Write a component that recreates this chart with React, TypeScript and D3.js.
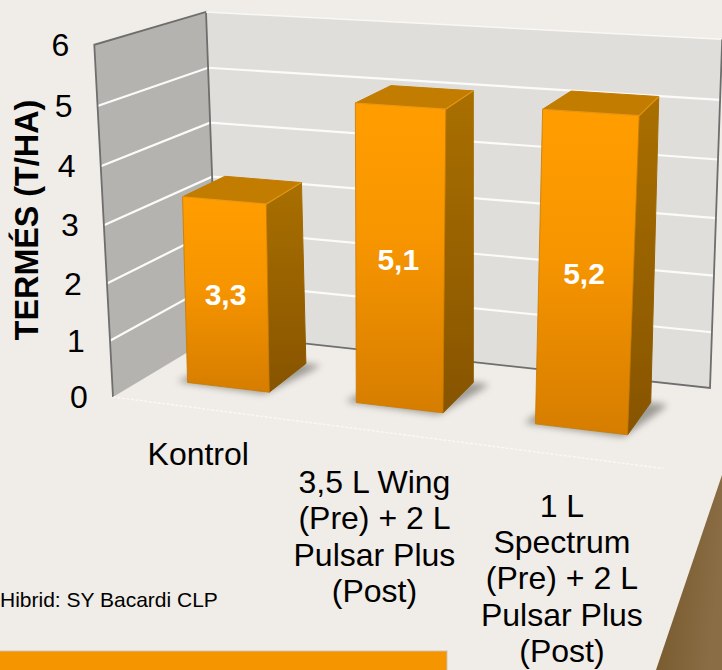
import React from "react";
import * as d3 from "d3";

const categories = ["Kontrol", "3,5 L Wing (Pre) + 2 L Pulsar Plus (Post)", "1 L Spectrum (Pre) + 2 L Pulsar Plus (Post)"];
const categoryLines = [["Kontrol"], ["3,5 L Wing", "(Pre) + 2 L", "Pulsar Plus", "(Post)"], ["1 L", "Spectrum", "(Pre) + 2 L", "Pulsar Plus", "(Post)"]];
const values = [3.3, 5.1, 5.2];
const valueLabels = ["3,3", "5,1", "5,2"];
const ticks = [0, 1, 2, 3, 4, 5, 6];
const yTitle = "TERMÉS (T/HA)";
const note = "Hibrid: SY Bacardi CLP";

// projective camera: unit box (u across, v up, z towards viewer) to picture
const O = [218, 334], X = [710, 388], Y = [206, 12], Z = [113, 397];
const a = -0.08, b = -0.045, c = -0.09;
function project(u: number, v: number, z: number): [number, number] {
  const w = 1 + a * u + b * v + c * z;
  const f = (i: number) => ((1 + a) * X[i] * u + (1 + b) * Y[i] * v + (1 + c) * Z[i] * z + O[i] * (1 - u - v - z)) / w;
  return [f(0), f(1)];
}

const vScale = d3.scaleLinear().domain([0, 6]).range([0, 1]);
const uScale = d3.scaleBand<string>().domain(categories).range([-0.003, 1.011]).paddingInner(0.535).paddingOuter(0.2675);
const zFront = 0.71, zBack = 0.28;
const widen = 0.009, lean = 5;
const path = d3.line<[number, number]>().x((p) => p[0]).y((p) => p[1]);
const poly = (pts: [number, number][]) => path(pts) + "Z";

// bar corners: the front face reads a touch wider and more upright than the wall perspective
function barPoint(u0: number, u1: number, right: boolean, v: number, front: boolean): [number, number] {
  const z = front ? zFront : zBack;
  const u = right ? u1 + (front ? widen : 0) : u0;
  const [x, y] = project(u, v, z);
  return [x + (front ? lean * v : 0), y];
}

const BG = "#f0ece7";
const EDGE = "#6e6e6e";

export default function App() {
  const back = poly([project(0, 0, 0), project(1, 0, 0), project(1, 1, 0), project(0, 1, 0)]);
  const left = poly([project(0, 0, 0), project(0, 0, 1), project(0, 1, 1), project(0, 1, 0)]);
  return (
    <svg width={722} height={670} viewBox="0 0 722 670" style={{ position: "fixed", left: 0, top: 0, display: "block", background: BG }} fontFamily="'Liberation Sans', Arial, sans-serif">
      <defs>
        <linearGradient id="front" x1="0" y1="0" x2="0" y2="1">
          <stop offset="0" stopColor="#ff9d00" />
          <stop offset="0.45" stopColor="#f79500" />
          <stop offset="1" stopColor="#d67d00" />
        </linearGradient>
        <linearGradient id="side" x1="0" y1="0" x2="0" y2="1">
          <stop offset="0" stopColor="#a96f00" />
          <stop offset="1" stopColor="#875400" />
        </linearGradient>
        <linearGradient id="brown" x1="0" y1="0" x2="1" y2="0.3">
          <stop offset="0" stopColor="#755629" />
          <stop offset="1" stopColor="#8a6d45" />
        </linearGradient>
        <filter id="blur" x="-20%" y="-40%" width="140%" height="180%"><feGaussianBlur stdDeviation="3.5" /></filter>
        <filter id="soft" x="-5%" y="-5%" width="110%" height="110%"><feGaussianBlur stdDeviation="0.6" /></filter>
      </defs>

      {/* walls */}
      <path d={back} fill="#dfdedb" />
      <path d={left} fill="#b5b3b0" />

      {/* gridlines */}
      {ticks.slice(1, -1).map((t) => {
        const v = vScale(t);
        return (
          <path key={t} d={path([project(0, v, 1), project(0, v, 0), project(1, v, 0)])!} fill="none" stroke="#fbfbf9" strokeWidth={2.2} />
        );
      })}

      {/* wall edges */}
      <path d={path([project(0, 0, 1), project(0, 1, 1), project(0, 1, 0), project(0, 0, 0)])!} fill="none" stroke={EDGE} strokeWidth={1.8} />
      <path d={path([project(0, 1, 0), project(1, 1, 0)])!} fill="none" stroke="#f8f8f6" strokeWidth={1.5} />
      <path d={path([project(0, 0, 0), project(1, 0, 0), project(1, 1, 0)])!} fill="none" stroke={EDGE} strokeWidth={1.8} />

      {/* floor front edge */}
      <path d={path([project(0, 0, 1), project(1.03, 0, 1.04)])!} fill="none" stroke="#fbfbf9" strokeOpacity={0.8} strokeWidth={1.5} strokeDasharray="3 1.5" />

      {/* bars */}
      {categories.map((cat, i) => {
        const u0 = uScale(cat)!;
        const u1 = u0 + uScale.bandwidth();
        const v = vScale(values[i]);
        const pt = (right: boolean, h: number, front: boolean) => barPoint(u0, u1, right, h, front);
        const shadow = poly([project(u0 - 0.02, 0, zFront + 0.005), project(u1 + 0.005, 0, zFront + 0.03), project(u1 + 0.03, 0, zBack + 0.06), project(u1 + 0.03, 0, zBack), project(u0, 0, zBack)]);
        const front = poly([pt(false, 0, true), pt(true, 0, true), pt(true, v, true), pt(false, v, true)]);
        const side = poly([pt(true, 0, true), pt(true, 0, false), pt(true, v, false), pt(true, v, true)]);
        const top = poly([pt(false, v, true), pt(true, v, true), pt(true, v, false), pt(false, v, false)]);
        const label = project((u0 + u1) / 2, v * 0.5, zFront);
        return (
          <g key={cat}>
            <path d={shadow} fill="#7d7b74" filter="url(#blur)" opacity={0.72} />
            <g filter="url(#soft)" strokeLinejoin="round" strokeWidth={1}>
              <path d={side} fill="url(#side)" stroke="url(#side)" />
              <path d={top} fill="#c27c00" stroke="#c27c00" />
              <path d={front} fill="url(#front)" stroke="#c67a00" strokeWidth={0.8} />
            </g>
            <path d={path([pt(false, v, true), pt(true, v, true), pt(true, v, false)])!} fill="none" stroke="#ffaa22" strokeOpacity={0.55} strokeWidth={1.2} />
            <text x={label[0] + 3} y={label[1] + 10} textAnchor="middle" fontSize={30} fontWeight="bold" fill="#ffffff">{valueLabels[i]}</text>
          </g>
        );
      })}

      {/* value axis labels */}
      {ticks.map((t) => {
        const [x, y] = project(0, vScale(t), 1);
        return <text key={t} x={x - 34} y={y + 11} textAnchor="middle" fontSize={32} fill="#000">{t}</text>;
      })}
      <text transform="translate(38,220) rotate(-90)" textAnchor="middle" fontSize={32.3} fontWeight="bold" fill="#000">{yTitle}</text>

      {/* category labels */}
      {categories.map((cat, i) => {
        const [x, y] = project(uScale(cat)! + uScale.bandwidth() / 2, 0, 1);
        const first = [58, 64, 65][i];
        return (
          <text key={cat} textAnchor="middle" fontSize={32} fill="#000">
            {categoryLines[i].map((line, j) => (
              <tspan key={j} x={x + 3 + i} y={y + first + j * 36.4}>{line}</tspan>
            ))}
          </text>
        );
      })}

      <text x={0} y={607} fontSize={21} fill="#000">{note}</text>

      {/* slide decoration */}
      <rect x={-2} y={651} width={449} height={22} fill="#f59500" stroke="#c9c4b8" strokeOpacity={0.6} strokeWidth={1.5} />
      <path d="M723,472 L723,670 L656,670 Z" fill="url(#brown)" />
    </svg>
  );
}
